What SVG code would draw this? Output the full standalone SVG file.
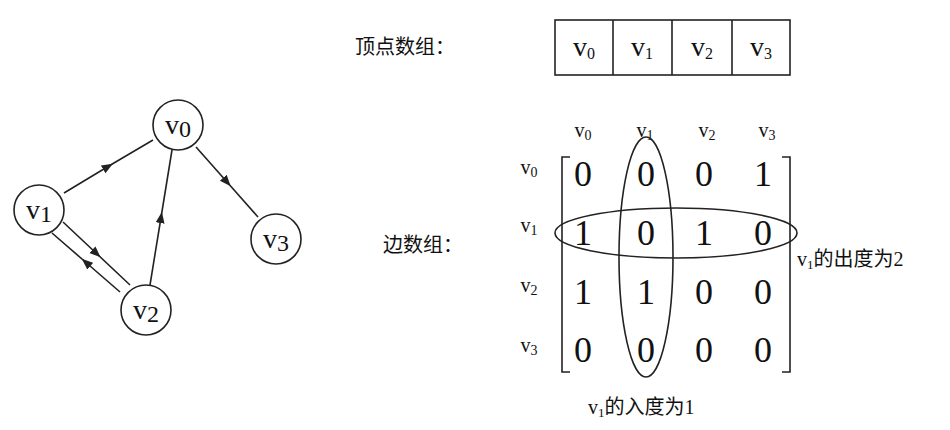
<svg xmlns="http://www.w3.org/2000/svg" width="950" height="430" viewBox="0 0 950 430">
<style>
text{font-family:"Liberation Serif","Noto Sans CJK SC",serif;fill:#111}
.n{fill:#fff;stroke:#222;stroke-width:1.6}
.e{stroke:#222;stroke-width:1.6;fill:none}
.nl{font-size:28px;text-anchor:middle}
.sm{font-size:20px;text-anchor:middle}
.big{font-size:36px;text-anchor:middle}
.cn{font-size:20px}
</style>
<defs>
<marker id="a" viewBox="0 0 10 10" refX="5" refY="5" markerWidth="7" markerHeight="7" orient="auto"><path d="M0,1L10,5L0,9z" fill="#222"/></marker>
</defs>
<g id="connectors">
<path class="e" d="M64,193L108,166.5L153,140" marker-mid="url(#a)"/>
<path class="e" d="M196,147L227,182L258,217" marker-mid="url(#a)"/>
<path class="e" d="M150,285L161,217.5L172,150" marker-mid="url(#a)"/>
<path class="e" d="M63,222L96.5,253.5L130,285" marker-mid="url(#a)"/>
<path class="e" d="M120,292L86,262.5L52,233" marker-mid="url(#a)"/>
</g>
<g id="v0"><circle class="n" cx="178" cy="125" r="25"/><text class="nl" x="178" y="134">v<tspan font-size="24" dy="3">0</tspan></text></g>
<g id="v1"><circle class="n" cx="39" cy="210" r="25"/><text class="nl" x="39" y="219">v<tspan font-size="24" dy="3">1</tspan></text></g>
<g id="v2"><circle class="n" cx="146" cy="310" r="25"/><text class="nl" x="146" y="319">v<tspan font-size="24" dy="3">2</tspan></text></g>
<g id="v3"><circle class="n" cx="276" cy="239" r="25"/><text class="nl" x="276" y="248">v<tspan font-size="24" dy="3">3</tspan></text></g>
<g id="vertexArray">
<text class="cn" x="355" y="54">顶点数组：</text>
<rect class="e" x="555" y="20" width="235" height="55"/>
<path class="e" d="M613,20V75M672,20V75M732,20V75"/>
<text class="nl" x="584" y="56" font-size="24">v<tspan font-size="16" dy="3">0</tspan></text>
<text class="nl" x="642" y="56" font-size="24">v<tspan font-size="16" dy="3">1</tspan></text>
<text class="nl" x="702" y="56" font-size="24">v<tspan font-size="16" dy="3">2</tspan></text>
<text class="nl" x="761" y="56" font-size="24">v<tspan font-size="16" dy="3">3</tspan></text>
</g>
<g id="edgeArray">
<text class="cn" x="383" y="252">边数组：</text>
<text class="sm" x="583" y="137">v<tspan font-size="14" dy="3">0</tspan></text>
<text class="sm" x="645" y="137">v<tspan font-size="14" dy="3">1</tspan></text>
<text class="sm" x="707" y="137">v<tspan font-size="14" dy="3">2</tspan></text>
<text class="sm" x="767" y="137">v<tspan font-size="14" dy="3">3</tspan></text>
<text class="sm" x="529" y="174">v<tspan font-size="14" dy="3">0</tspan></text>
<text class="sm" x="529" y="232">v<tspan font-size="14" dy="3">1</tspan></text>
<text class="sm" x="529" y="292">v<tspan font-size="14" dy="3">2</tspan></text>
<text class="sm" x="529" y="352">v<tspan font-size="14" dy="3">3</tspan></text>
<path class="e" stroke-width="2" d="M570,157H562V372H570M782,157H790V372H782"/>
<g>
<text class="big" x="583" y="186">0</text><text class="big" x="646" y="186">0</text><text class="big" x="704" y="186">0</text><text class="big" x="763" y="186">1</text>
<text class="big" x="583" y="245">1</text><text class="big" x="646" y="245">0</text><text class="big" x="704" y="245">1</text><text class="big" x="763" y="245">0</text>
<text class="big" x="583" y="304">1</text><text class="big" x="646" y="304">1</text><text class="big" x="704" y="304">0</text><text class="big" x="763" y="304">0</text>
<text class="big" x="583" y="362">0</text><text class="big" x="646" y="362">0</text><text class="big" x="704" y="362">0</text><text class="big" x="763" y="362">0</text>
</g>
<ellipse class="e" cx="646" cy="257" rx="27" ry="120"/>
<ellipse class="e" cx="676" cy="233" rx="121" ry="25"/>
<text class="cn" x="797" y="266">v<tspan font-size="13" dy="3">1</tspan><tspan dy="-3">的出度为2</tspan></text>
<text class="cn" x="588" y="414">v<tspan font-size="13" dy="3">1</tspan><tspan dy="-3">的入度为1</tspan></text>
</g>
</svg>
